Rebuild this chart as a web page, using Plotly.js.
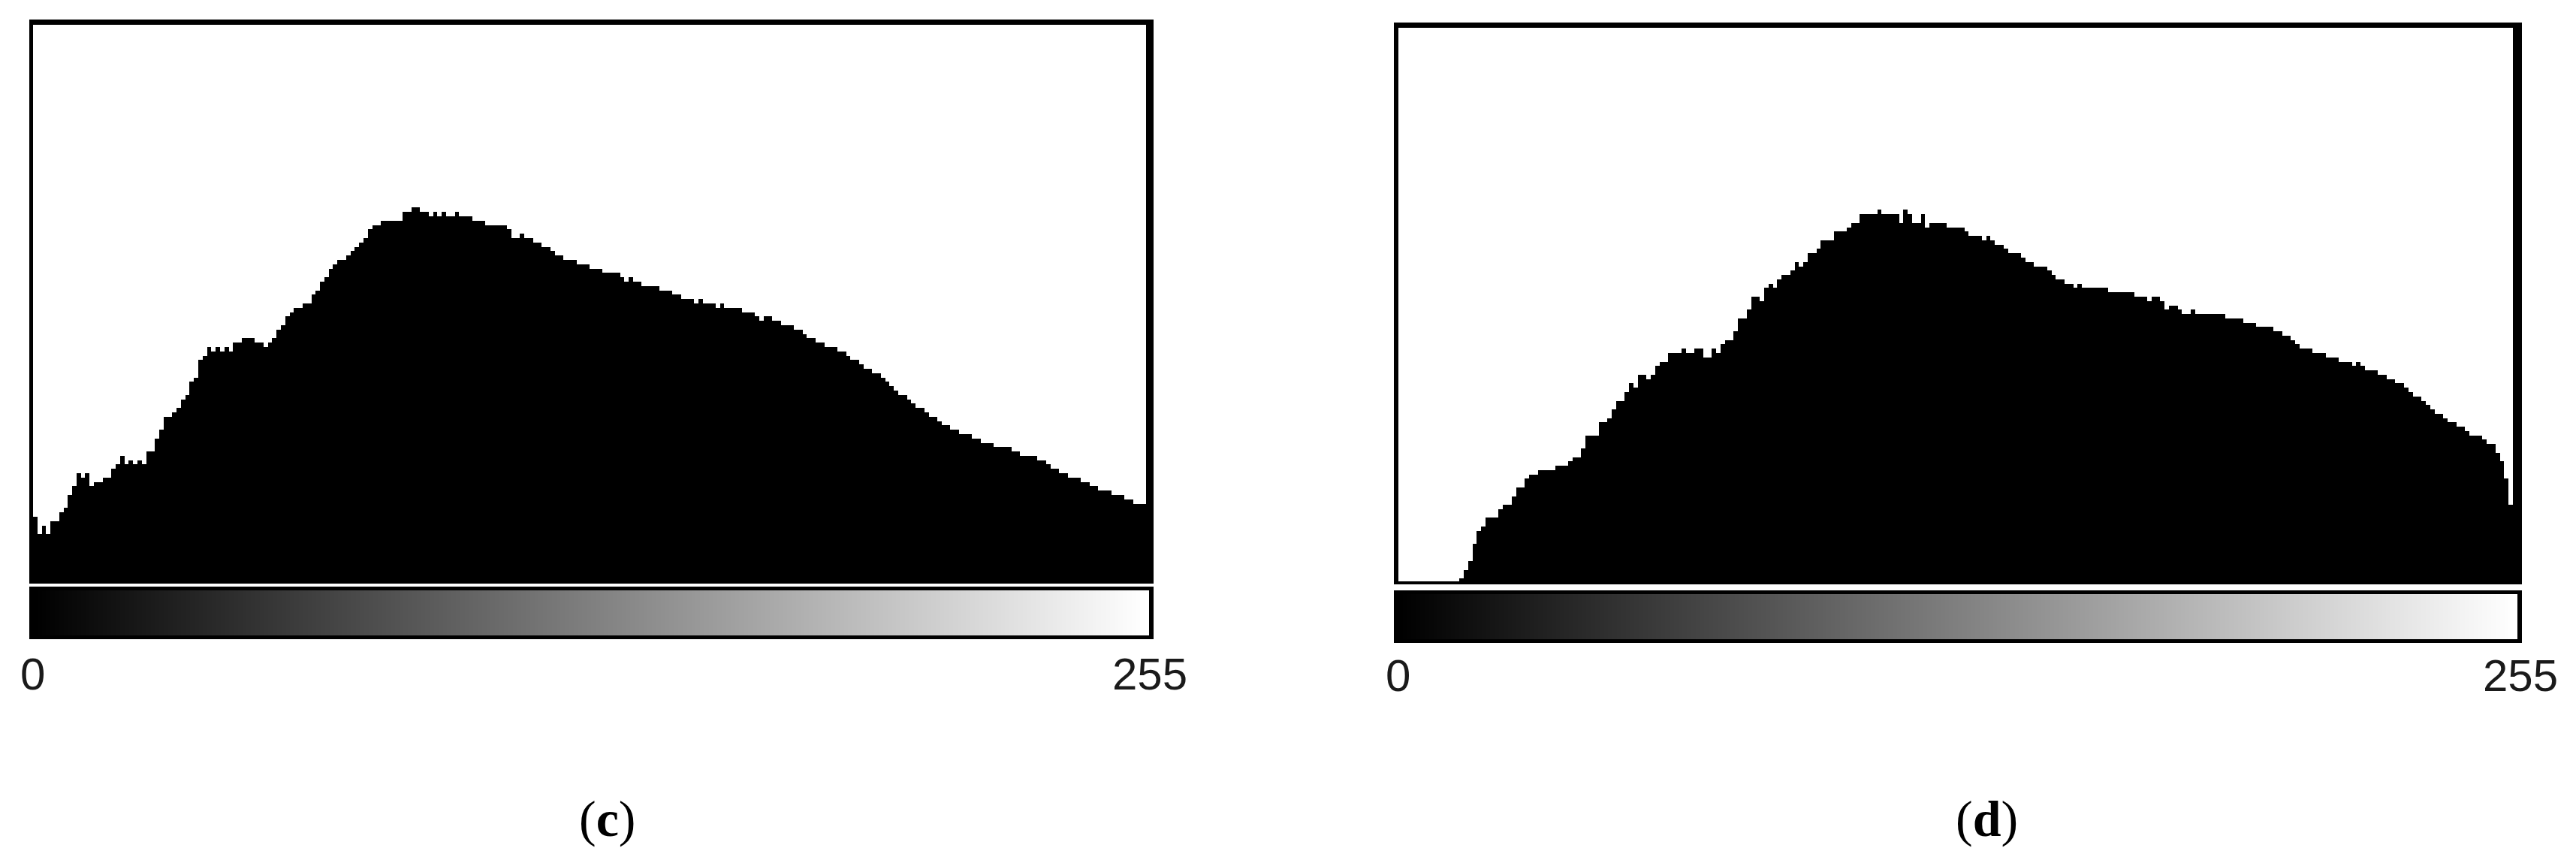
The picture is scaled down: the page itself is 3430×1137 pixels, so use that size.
<!DOCTYPE html>
<html>
<head>
<meta charset="utf-8">
<script src="https://cdn.plot.ly/plotly-3.0.1.min.js"></script>
<style>
  html, body { margin: 0; padding: 0; background: #ffffff; }
  #chart { width: 3430px; height: 1137px; }
</style>
</head>
<body>
<div id="chart"></div>
<script>
// ---------- data ----------
// grey levels 0..255 (the histogram categories)
const greyLevels = Array.from({length: 256}, (_, i) => i);

// histogram (c): bin heights, in units of the 128-step histogram window
const countsC = [
  15,11,13,11,14,14,16,17,20,22,
  25,24,25,22,23,23,24,24,26,27,
  29,27,28,27,28,27,30,30,33,35,
  38,38,39,40,42,43,46,47,51,52,
  54,53,54,53,54,53,55,55,56,56,
  56,55,55,54,55,56,58,59,61,62,
  63,63,64,64,66,67,69,70,72,73,
  74,74,75,76,77,78,79,81,82,82,
  83,83,83,83,83,85,85,86,86,85,
  85,84,85,84,85,84,84,85,84,84,
  84,83,83,83,82,82,82,82,82,81,
  79,79,80,79,79,78,78,77,77,76,
  75,75,74,74,74,73,73,73,72,72,
  72,71,71,71,71,70,69,70,69,69,
  68,68,68,68,67,67,67,66,66,65,
  65,65,64,65,64,64,64,63,64,63,
  63,63,63,62,62,62,61,60,61,61,
  60,60,59,59,59,58,58,57,56,56,
  55,55,54,54,54,53,53,52,51,51,
  50,49,49,48,48,47,46,45,44,43,
  43,42,41,40,40,39,38,38,37,36,
  36,35,35,34,34,34,33,33,32,32,
  32,31,31,31,31,30,30,29,29,29,
  29,28,28,27,26,26,25,25,24,24,
  24,23,23,22,22,21,21,21,20,20,
  20,19,19,18,18,18
];

// histogram (d)
const countsD = [
  0,0,0,0,0,0,0,0,0,0,
  0,0,0,0,1,3,5,9,12,13,
  15,15,15,17,18,18,20,22,22,24,
  25,25,26,26,26,26,27,27,27,28,
  29,29,31,34,34,34,37,37,38,40,
  42,42,44,46,45,48,48,47,48,50,
  51,51,53,53,53,54,53,53,54,54,
  52,52,54,53,55,56,56,58,61,61,
  63,66,66,65,68,69,68,70,71,71,
  72,74,73,74,76,76,77,79,79,79,
  81,81,81,82,83,83,85,85,85,85,
  86,85,85,85,85,83,86,85,83,83,
  85,82,83,83,83,83,82,82,82,82,
  81,80,80,80,79,80,79,78,78,77,
  76,76,76,75,74,74,73,73,73,72,
  71,70,70,69,69,68,69,68,68,68,
  68,68,68,67,67,67,67,67,67,66,
  66,66,65,66,66,65,63,64,64,63,
  62,62,63,62,62,62,62,62,62,62,
  61,61,61,61,60,60,60,59,59,59,
  59,58,58,57,57,56,55,54,54,54,
  53,53,53,52,52,52,51,51,51,50,
  51,50,49,49,49,48,48,47,47,46,
  46,45,44,43,43,42,41,40,39,39,
  38,37,37,36,36,35,34,34,34,33,
  32,32,30,28,24,18
];

// tick labels of the grey-level bars and panel captions
const endLabels = ['0', '255'];
const panelCaptions = ['(<b>c</b>)', '(<b>d</b>)'];

// ---------- layout geometry (pixels) ----------
const W = 3430, H = 1137;
const px = v => v / W;          // x pixel -> paper
const py = v => 1 - v / H;      // y pixel (from top) -> paper

const P = [
  { // panel (c)
    histL: 44, histR: 1526, histT: 33, histB: 775,
    frameL: 39, frameR: 1536, frameT: 26,
    gradL: 44, gradR: 1530, gradT: 786, gradB: 846,
    gFrameT: 781, gFrameB: 851,
    labelY: 897, label0X: 43, label255X: 1531,
    capX: 809, capY: 1090
  },
  { // panel (d)
    histL: 1862, histR: 3346, histT: 37, histB: 776,
    frameL: 1856, frameR: 3358, frameT: 30,
    gradL: 1862, gradR: 3352, gradT: 791, gradB: 851,
    gFrameT: 786, gFrameB: 856,
    labelY: 899, label0X: 1862, label255X: 3356,
    capX: 2645, capY: 1090
  }
];

const traces = [];
const layout = {
  width: W, height: H,
  margin: {l: 0, r: 0, t: 0, b: 0, pad: 0},
  paper_bgcolor: '#ffffff',
  plot_bgcolor: 'rgba(0,0,0,0)',
  showlegend: false,
  bargap: 0,
  shapes: [],
  annotations: []
};

const series = [countsC, countsD];
const hidden = {visible: false, fixedrange: true, showgrid: false, zeroline: false};

P.forEach((g, k) => {
  const hx = k === 0 ? 'x' : 'x2', hy = k === 0 ? 'y' : 'y2';
  const gx = k === 0 ? 'x3' : 'x4', gy = k === 0 ? 'y3' : 'y4';
  const hxKey = k === 0 ? 'xaxis' : 'xaxis2', hyKey = k === 0 ? 'yaxis' : 'yaxis2';
  const gxKey = k === 0 ? 'xaxis3' : 'xaxis4', gyKey = k === 0 ? 'yaxis3' : 'yaxis4';

  traces.push({
    type: 'bar', x: greyLevels, y: series[k], width: 1,
    marker: {color: '#000000', line: {width: 0}},
    xaxis: hx, yaxis: hy, hoverinfo: 'skip'
  });
  traces.push({
    type: 'heatmap', x: greyLevels, y: [0], z: [greyLevels],
    zmin: 0, zmax: 255, showscale: false,
    colorscale: [[0, '#000000'], [1, '#ffffff']],
    xaxis: gx, yaxis: gy, hoverinfo: 'skip'
  });

  layout[hxKey] = Object.assign({}, hidden, {domain: [px(g.histL), px(g.histR)], range: [-0.5, 255.5], anchor: hy});
  layout[hyKey] = Object.assign({}, hidden, {domain: [py(g.histB), py(g.histT)], range: [0, 128], anchor: hx});
  layout[gxKey] = Object.assign({}, hidden, {domain: [px(g.gradL), px(g.gradR)], range: [-0.5, 255.5], anchor: gy});
  layout[gyKey] = Object.assign({}, hidden, {domain: [py(g.gradB), py(g.gradT)], range: [-0.5, 0.5], anchor: gx});

  const rect = (x0, x1, y0, y1) => ({
    type: 'rect', xref: 'paper', yref: 'paper', layer: 'above',
    x0: px(x0), x1: px(x1), y0: py(y1), y1: py(y0),
    fillcolor: '#000000', line: {width: 0}
  });
  // histogram frame
  layout.shapes.push(rect(g.frameL, g.histL, g.frameT, g.histB + 2));
  layout.shapes.push(rect(g.frameL, g.frameR, g.frameT, g.histT));
  layout.shapes.push(rect(g.histR, g.frameR, g.frameT, g.histB + 2));
  layout.shapes.push(rect(g.frameL, g.frameR, g.histB - 2, g.histB + 2));
  // grey-level bar frame
  layout.shapes.push(rect(g.frameL, g.frameR, g.gFrameT, g.gradT));
  layout.shapes.push(rect(g.frameL, g.frameR, g.gradB, g.gFrameB));
  layout.shapes.push(rect(g.frameL, g.gradL, g.gFrameT, g.gFrameB));
  layout.shapes.push(rect(g.gradR, g.frameR, g.gFrameT, g.gFrameB));

  // end labels of the grey-level bar
  [g.label0X, g.label255X].forEach((lx, j) => {
    layout.annotations.push({
      xref: 'paper', yref: 'paper', x: px(lx), y: py(g.labelY),
      xanchor: 'center', yanchor: 'middle', showarrow: false,
      text: endLabels[j],
      font: {family: 'Liberation Sans, Arial, sans-serif', size: 60, color: '#1a1a1a'}
    });
  });
  // panel caption
  layout.annotations.push({
    xref: 'paper', yref: 'paper', x: px(g.capX), y: py(g.capY),
    xanchor: 'center', yanchor: 'middle', showarrow: false,
    text: panelCaptions[k],
    font: {family: 'Liberation Serif, Times New Roman, serif', size: 68, color: '#000000'}
  });
});

Plotly.newPlot('chart', traces, layout, {staticPlot: true, displayModeBar: false});
</script>
</body>
</html>
